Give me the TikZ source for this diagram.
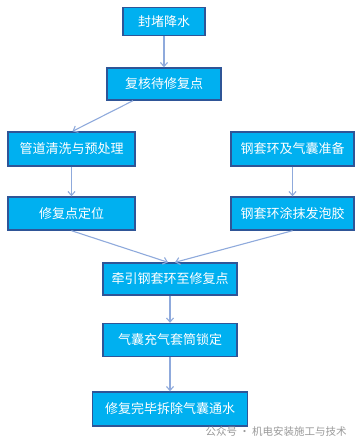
\documentclass[tikz,border=0pt]{standalone}
\usepackage{fontspec}
\usepackage{tikz}
\usepackage{xcolor}
\usetikzlibrary{arrows.meta}
\newfontfamily\cjk{Noto Sans CJK SC}
\definecolor{boxfill}{HTML}{00B0F0}
\definecolor{boxline}{HTML}{2F5597}
\definecolor{arrline}{HTML}{8FAADC}

\begin{document}
\begin{tikzpicture}[x=1pt,y=1pt,
  every node/.style={font=\cjk\fontsize{13}{15}\selectfont},
  stepbox/.style={draw=boxline,line width=1.4pt,fill=boxfill,text=white,inner sep=0pt},
  flow/.style={draw=arrline,line width=1.1pt,-{Straight Barb[length=4pt,width=7pt]}}]
\useasboundingbox (0,0) rectangle (361,-446);
\node[stepbox,minimum width=82,minimum height=28] (seal) at (164,-21.5) {封堵降水};
\node[stepbox,minimum width=114,minimum height=32] (check) at (164,-84) {复核待修复点};
\node[stepbox,minimum width=127,minimum height=34] (clean) at (71.5,-149) {管道清洗与预处理};
\node[stepbox,minimum width=123,minimum height=34] (prep) at (292.5,-149) {钢套环及气囊准备};
\node[stepbox,minimum width=127,minimum height=33] (locate) at (71.5,-213.5) {修复点定位};
\node[stepbox,minimum width=123,minimum height=33] (glue) at (292.5,-213.5) {钢套环涂抹发泡胶};
\node[stepbox,minimum width=134,minimum height=32] (pull) at (170,-279) {牵引钢套环至修复点};
\node[stepbox,minimum width=134,minimum height=33] (lock) at (170,-340) {气囊充气套筒锁定};
\node[stepbox,minimum width=155,minimum height=34] (done) at (170,-409) {修复完毕拆除气囊通水};
\node[text=gray!80,anchor=west,font=\cjk\fontsize{10.5}{12}\selectfont] (mark) at (202,-431) {公众号 · 机电安装施工与技术};
\draw[flow] (seal) -- (check);
\draw[flow] ([xshift=-31pt]check.south) -- ([xshift=1pt]clean.north);
\draw[flow] (clean) -- (locate);
\draw[flow] (prep) -- (glue);
\draw[flow] (locate.south) -- ([xshift=-2pt]pull.north);
\draw[flow] (glue.south) -- ([xshift=5pt]pull.north);
\draw[flow] (pull) -- (lock);
\draw[flow] (lock) -- (done);
\end{tikzpicture}
\end{document}
